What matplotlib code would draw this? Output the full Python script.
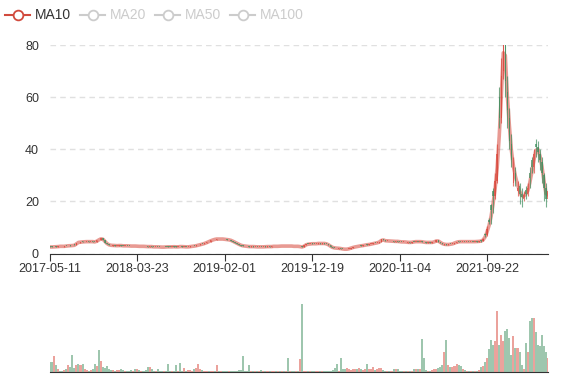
import numpy as np
import pandas as pd
import matplotlib
matplotlib.use('Agg')
import matplotlib.pyplot as plt
from matplotlib.lines import Line2D

# weekly candles
closes = [
    2.5, 2.5, 2.6, 2.6, 2.7, 2.8, 2.7, 2.8, 2.9, 3.0,
    3.0, 3.1, 3.2, 4.2, 4.3, 4.4, 4.5, 4.5, 4.6, 4.5,
    4.6, 4.5, 4.4, 5.0, 5.4, 5.8, 5.2, 4.2, 3.5, 3.2,
    3.1, 3.1, 3.0, 3.0, 3.1, 3.0, 2.9, 3.0, 2.9, 2.9,
    2.8, 2.9, 2.8, 2.8, 2.7, 2.8, 2.7, 2.7, 2.6, 2.7,
    2.6, 2.5, 2.6, 2.5, 2.5, 2.4, 2.5, 2.5, 2.6, 2.5,
    2.6, 2.6, 2.5, 2.6, 2.7, 2.6, 2.6, 2.5, 2.6, 2.7,
    2.8, 2.9, 3.1, 3.3, 3.5, 3.7, 4.0, 4.3, 4.7, 5.0,
    5.3, 5.5, 5.6, 5.5, 5.6, 5.5, 5.4, 5.3, 5.2, 4.9,
    4.5, 4.1, 3.7, 3.3, 3.0, 2.9, 2.8, 2.7, 2.6, 2.7,
    2.6, 2.6, 2.5, 2.6, 2.5, 2.6, 2.6, 2.7, 2.6, 2.7,
    2.8, 2.7, 2.8, 2.8, 2.9, 2.8, 2.9, 2.8, 2.9, 2.8,
    2.7, 2.8, 2.7, 2.6, 2.4, 3.2, 3.5, 3.6, 3.7, 3.8,
    3.7, 3.8, 3.9, 3.8, 3.9, 3.8, 3.6, 3.1, 2.5, 2.2,
    2.1, 2.0, 2.0, 1.8, 1.7, 1.6, 1.7, 1.9, 2.2, 2.4,
    2.6, 2.7, 2.9, 3.0, 3.1, 3.3, 3.4, 3.5, 3.7, 3.9,
    4.0, 4.2, 4.6, 5.4, 5.0, 4.8, 4.9, 4.7, 4.8, 4.6,
    4.7, 4.6, 4.5, 4.4, 4.5, 4.3, 4.3, 4.2, 4.4, 4.5,
    4.6, 4.5, 4.6, 4.4, 4.3, 4.2, 4.3, 4.2, 4.3, 4.6,
    5.0, 4.6, 4.0, 3.6, 3.5, 3.4, 3.5, 3.6, 3.8, 4.2,
    4.4, 4.6, 4.5, 4.6, 4.5, 4.6, 4.5, 4.6, 4.5, 4.6,
    4.6, 4.7, 4.8, 5.5, 7.0, 9.5, 12.0, 16.5, 22, 28,
    38, 52, 68, 86, 66, 55, 43, 36, 31, 28,
    25, 23, 21.5, 22.5, 23, 25, 29, 33, 38, 41,
    39, 36, 31, 25, 21, 24,
]

opens = [
    2.7, 2.7, 2.4, 2.7, 2.6, 2.9, 2.8, 2.6, 3.0, 2.8,
    3.2, 3.3, 3.6, 3.3, 4.5, 4.2, 4.7, 4.3, 4.4, 4.7,
    4.4, 4.7, 4.6, 4.5, 5.7, 5.3, 5.8, 5.1, 4.2, 3.5,
    3.2, 3.0, 3.2, 2.9, 3.0, 3.2, 3.0, 2.9, 3.0, 3.0,
    2.9, 2.8, 2.9, 2.7, 2.8, 2.7, 2.8, 2.8, 2.7, 2.6,
    2.7, 2.6, 2.5, 2.6, 2.6, 2.5, 2.4, 2.6, 2.7, 2.6,
    2.5, 2.7, 2.7, 2.5, 2.8, 2.7, 2.5, 2.6, 2.5, 2.6,
    2.7, 3.0, 2.9, 3.1, 3.3, 3.8, 3.7, 4.0, 4.9, 4.6,
    5.0, 5.6, 5.3, 5.7, 5.4, 5.7, 5.5, 5.5, 5.1, 5.2,
    4.9, 4.5, 4.1, 3.7, 3.3, 3.1, 2.9, 2.8, 2.8, 2.6,
    2.7, 2.5, 2.6, 2.5, 2.6, 2.5, 2.7, 2.6, 2.7, 2.6,
    2.7, 2.8, 2.7, 2.9, 2.8, 2.9, 2.8, 3.0, 2.8, 2.9,
    2.8, 2.7, 2.8, 2.4, 2.9, 2.6, 3.2, 3.7, 3.6, 3.9,
    3.8, 3.7, 3.8, 4.0, 3.8, 3.9, 3.8, 3.6, 3.1, 2.5,
    2.2, 2.1, 1.9, 2.0, 1.8, 1.7, 1.6, 1.7, 1.9, 2.2,
    2.4, 2.8, 2.7, 3.1, 3.0, 3.1, 3.5, 3.4, 3.6, 3.7,
    4.1, 4.0, 4.2, 4.6, 5.4, 5.0, 4.8, 4.9, 4.7, 4.8,
    4.6, 4.7, 4.6, 4.5, 4.4, 4.5, 4.2, 4.3, 4.2, 4.6,
    4.5, 4.6, 4.5, 4.7, 4.5, 4.3, 4.2, 4.3, 4.2, 4.3,
    4.6, 5.0, 4.6, 4.0, 3.2, 3.7, 3.4, 3.7, 3.6, 3.8,
    4.2, 4.7, 4.6, 4.5, 4.6, 4.5, 4.6, 4.5, 4.6, 4.5,
    4.7, 4.6, 4.9, 4.8, 7.6, 7.0, 13.0, 18.5, 24, 22,
    28, 60, 52, 70, 80, 62, 52, 42, 27, 31,
    24, 26, 23, 21, 24.5, 23, 31, 36, 33, 42,
    41, 38, 35, 30, 25, 21,
]

# wick extremes for the last 34 weeks (the rally), where they are visible
tail_start = 212
tail_highs = [
    5.0, 5.8, 8.0, 10.5, 13.5, 19, 25, 31,
    42, 64, 75, 95, 84, 68, 56, 46, 37, 33,
    28, 27, 25, 24, 26, 27, 33, 37, 40, 44,
    43, 40, 37, 31, 27, 26,
]
tail_lows = [
    4.6, 4.7, 6.5, 6.8, 11.5, 11.5, 15.5, 21,
    27, 48, 50, 67, 60, 48, 40, 33, 26, 26,
    22, 19, 18, 20, 21, 22, 25, 31, 31, 37,
    35, 32, 27, 20, 18, 20,
]

# weekly volume, relative units
volumes = [
    14, 14, 23, 10, 4, 2, 2, 3, 5, 10,
    8, 25, 6, 10, 12, 10, 12, 5, 3, 2,
    3, 5, 12, 9, 33, 16, 7, 6, 9, 4,
    3, 3, 2, 3, 3, 4, 3, 2, 2, 2,
    3, 2, 5, 4, 3, 2, 2, 3, 7, 7,
    5, 2, 1, 4, 1, 1, 1, 1, 12, 1,
    1, 1, 10, 2, 13, 2, 6, 2, 3, 3,
    2, 4, 6, 12, 5, 3, 2, 2, 1, 1,
    1, 1, 11, 1, 1, 1, 1, 1, 1, 1,
    1, 1, 2, 3, 3, 23, 2, 2, 11, 1,
    1, 1, 1, 1, 3, 2, 1, 1, 1, 1,
    2, 1, 1, 1, 1, 1, 1, 20, 1, 1,
    1, 2, 2, 19, 100, 2, 1, 1, 1, 1,
    1, 1, 1, 1, 1, 1, 1, 1, 2, 3,
    6, 12, 2, 20, 4, 5, 6, 4, 3, 5,
    4, 5, 6, 4, 3, 5, 12, 5, 4, 7,
    3, 5, 6, 6, 3, 2, 2, 2, 2, 4,
    4, 5, 2, 1, 1, 1, 1, 1, 1, 4,
    5, 4, 5, 49, 21, 3, 2, 2, 3, 4,
    4, 6, 8, 10, 30, 47, 10, 8, 7, 9,
    12, 10, 9, 5, 3, 1, 1, 1, 2, 2,
    2, 3, 7, 9, 14, 20, 34, 47, 40, 45,
    90, 40, 55, 45, 61, 64, 50, 25, 53, 35,
    35, 30, 10, 5, 43, 30, 75, 80, 79, 59,
    40, 38, 55, 39, 30, 20,
]

tick_labels = ['2017-05-11', '2018-03-23', '2019-02-01',
               '2019-12-19', '2020-11-04', '2021-09-22']
tick_step = 43
legend_names = ['MA10', 'MA20', 'MA50', 'MA100']

assert len(closes) == len(opens) == len(volumes)
assert len(tail_highs) == len(tail_lows) == len(closes) - tail_start

closes = np.asarray(closes, dtype=float)
opens = np.asarray(opens, dtype=float)
idx = np.arange(len(closes))
highs = np.maximum(opens, closes)
lows = np.minimum(opens, closes)
highs[tail_start:] = np.maximum(highs[tail_start:], tail_highs)
lows[tail_start:] = np.minimum(lows[tail_start:], tail_lows)
up = closes >= opens
ma10 = pd.Series(closes).rolling(2, min_periods=1).mean()

red, green = '#d9473b', '#3e8e5e'
colors = np.where(up, red, green)

plt.rcParams['font.family'] = ['Liberation Sans', 'DejaVu Sans']
W, H = 577, 380
fig = plt.figure(figsize=(W / 100, H / 100), dpi=100)
ax = fig.add_axes([50 / W, (H - 253.5) / H, 498 / W, 208.5 / H])
vax = fig.add_axes([50 / W, (H - 372) / H, 498 / W, 72 / H])

# price panel
ax.plot(idx, ma10, color='#d9574b', lw=2.6, alpha=0.6, zorder=2,
        solid_capstyle='round', solid_joinstyle='round')
ax.vlines(idx, lows, highs, colors=colors, lw=0.8, alpha=0.7, zorder=3)
body_h = np.maximum(np.abs(closes - opens), 0.25)
ax.bar(idx, body_h, bottom=np.minimum(opens, closes), width=0.7,
       color=colors, alpha=0.7, linewidth=0, zorder=3)

ax.set_xlim(0, len(idx) - 1)
ax.set_ylim(0, 80)
ax.set_yticks([0, 20, 40, 60, 80])
ax.grid(axis='y', linestyle=(0, (4, 3)), color='#e0e0e0', lw=1)
ax.set_axisbelow(True)
for s in ['top', 'right', 'left']:
    ax.spines[s].set_visible(False)
ax.spines['bottom'].set_color('#333333')
ax.spines['bottom'].set_zorder(5)
ax.set_xticks(idx[::tick_step][:len(tick_labels)])
ax.set_xticklabels(tick_labels)
ax.tick_params(axis='y', length=0, pad=8, labelsize=9, labelcolor='#333333')
ax.tick_params(axis='x', length=5, direction='out', color='#333333', pad=2,
               labelsize=9, labelcolor='#333333')

# volume panel
vax.bar(idx, volumes, width=1.0, color=colors, alpha=0.5, linewidth=0)
vax.set_xlim(0, len(idx) - 1)
vax.set_ylim(0, 106)
for s in ['top', 'right', 'left']:
    vax.spines[s].set_visible(False)
vax.spines['bottom'].set_color('#333333')
vax.set_xticks([])
vax.set_yticks([])

# legend
icon_x = [5, 80, 155, 230]
ly = 1 - 15 / H
for i, name in enumerate(legend_names):
    c = '#d14a3d' if i == 0 else '#cccccc'
    tc = '#333333' if i == 0 else '#cccccc'
    x0 = icon_x[i]
    fig.add_artist(Line2D([x0 / W, (x0 + 25) / W], [ly, ly], color=c, lw=1.5,
                          transform=fig.transFigure))
    fig.add_artist(Line2D([(x0 + 12.5) / W], [ly], marker='o', markersize=7,
                          markerfacecolor='white', markeredgecolor=c,
                          markeredgewidth=1.3, transform=fig.transFigure))
    fig.text((x0 + 30) / W, ly, name, fontsize=10, color=tc, va='center')

fig.savefig('out.png', dpi=100)
